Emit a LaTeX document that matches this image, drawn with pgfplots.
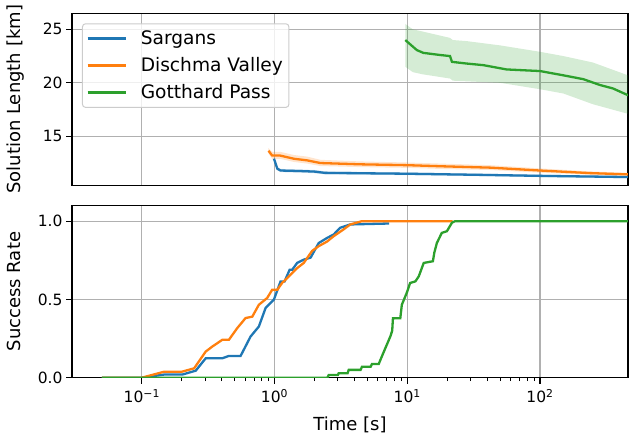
\documentclass[border=0pt]{standalone}
\usepackage{fontspec}
\setmainfont{DejaVu Sans}
\usepackage{pgfplots}
\pgfplotsset{compat=1.18}
\definecolor{C0}{RGB}{31,119,180}
\definecolor{C1}{RGB}{255,127,14}
\definecolor{C2}{RGB}{44,160,44}
\definecolor{gridc}{RGB}{176,176,176}
\pgfplotsset{
  mycommonaxis/.style={
    scale only axis, width=556pt, height=172.2pt,
    xmin=0.0298, xmax=460,
    grid=major, major grid style={gridc, line width=1.1pt},
    axis line style={line width=1.1pt, black},
    tick align=outside, major tick length=6pt, minor tick length=3.5pt,
    tick style={black, line width=1.1pt},
    minor tick style={black, line width=0.8pt},
    tick label style={font=\fontsize{15.5}{18}\selectfont},
    label style={font=\fontsize{18}{21}\selectfont},
    /pgf/number format/assume math mode=true,
    xtick={0.1,1,10,100},
    ytick pos=left, xtick pos=bottom,
    every axis plot/.append style={line width=2.3pt},
  }
}
\begin{document}
\begin{tikzpicture}
\useasboundingbox (-72pt,-63.3pt) rectangle (557pt,377.7pt);
% ---------------- bottom axis: success rate
\begin{semilogxaxis}[mycommonaxis,
  at={(0pt,0pt)}, anchor=south west,
  ymin=0, ymax=1.1, ytick={0,0.5,1},
  yticklabel style={/pgf/number format/.cd, fixed, fixed zerofill, precision=1},
  xticklabels={10\textsuperscript{−1},10\textsuperscript{0},10\textsuperscript{1},10\textsuperscript{2}},
  xticklabel style={yshift=-2pt},
  xlabel={Time [s]}, ylabel={Success Rate},
  xlabel style={at={(axis description cs:0.5,-0.3095)}, anchor=base},
  ylabel style={at={(axis description cs:-0.0926,0.5)}, anchor=base},
]
\addplot[C0] coordinates {(0.05,0)(0.1,0)(0.147,0.02)(0.202,0.02)(0.255,0.045)(0.303,0.124)(0.404,0.124)(0.453,0.139)(0.555,0.139)(0.66,0.263)(0.762,0.327)(0.856,0.445)(0.99,0.50)(1.02,0.53)(1.11,0.615)(1.19,0.615)(1.30,0.69)(1.36,0.69)(1.48,0.733)(1.66,0.754)(1.87,0.767)(2.15,0.86)(2.49,0.893)(2.79,0.915)(3.13,0.958)(3.72,0.979)(7.3,0.985)};
\addplot[C1] coordinates {(0.05,0)(0.1,0)(0.147,0.038)(0.2,0.038)(0.248,0.06)(0.303,0.167)(0.34,0.199)(0.404,0.242)(0.453,0.242)(0.524,0.317)(0.605,0.381)(0.68,0.39)(0.762,0.466)(0.88,0.509)(0.96,0.562)(1.05,0.562)(1.14,0.605)(1.21,0.626)(1.32,0.658)(1.48,0.70)(1.66,0.733)(1.92,0.81)(2.15,0.84)(2.49,0.87)(2.79,0.904)(3.31,0.947)(3.72,0.979)(4.56,1.0)(22,1.0)};
\addplot[C2] coordinates {(0.05,0)(2.5,0)(2.56,0.017)(3.0,0.017)(3.04,0.028)(3.55,0.028)(3.62,0.05)(4.45,0.05)(4.56,0.07)(5.3,0.07)(5.42,0.088)(6.1,0.088)(6.27,0.113)(6.83,0.188)(7.45,0.263)(7.7,0.30)(7.8,0.38)(8.86,0.38)(9.1,0.466)(9.9,0.541)(10.5,0.605)(11.5,0.615)(12.2,0.647)(13.3,0.733)(15.6,0.744)(16.0,0.80)(16.7,0.86)(18.2,0.925)(19.9,0.936)(21.7,0.99)(22.9,1.0)(460,1.0)};
\end{semilogxaxis}
% ---------------- top axis: solution length
\begin{semilogxaxis}[mycommonaxis,
  at={(0pt,192.2pt)}, anchor=south west,
  ymin=10.4, ymax=26.5, ytick={15,20,25},
  xticklabels={}, major x tick style={draw=none}, minor x tick style={draw=none},
  ylabel={Solution Length [km]},
  ylabel style={at={(axis description cs:-0.0926,0.5)}, anchor=base},
  legend style={at={(axis description cs:0,1)}, anchor=north west, xshift=10pt, yshift=-10pt,
    draw=black!20, line width=1pt, fill=white, fill opacity=0.8, text opacity=1,
    rounded corners=3pt, font=\fontsize{18.6}{21}\selectfont,
    inner xsep=4pt, inner ysep=5pt, row sep=7.5pt, cells={anchor=west}},
  legend image code/.code={\draw[#1, line width=2.3pt] (0pt,0pt) -- (38pt,0pt); \path (50pt,0pt);},
]
\addplot[draw=none, fill=C0, fill opacity=0.2, forget plot] coordinates {(0.99,13.05)(1.05,12.12)(1.11,11.95)(1.57,11.9)(2.0,11.85)(2.4,11.72)(10,11.63)(42,11.5)(100,11.42)(460,11.3)(460,11.08)(100,11.18)(42,11.26)(10,11.37)(2.4,11.44)(2.0,11.55)(1.57,11.6)(1.11,11.65)(1.05,11.82)(0.99,12.75)} -- cycle;
\addplot[draw=none, fill=C1, fill opacity=0.2, forget plot] coordinates {(0.9,13.9)(0.96,13.55)(1.1,13.55)(1.4,13.25)(1.76,13.1)(2.22,12.8)(4.43,12.65)(10,12.55)(17.7,12.45)(42,12.3)(100,12.0)(237,11.72)(460,11.58)(460,11.3)(237,11.4)(100,11.6)(42,11.85)(17.7,11.95)(10,12.05)(4.43,12.12)(2.22,12.22)(1.76,12.45)(1.4,12.6)(1.1,12.9)(0.96,12.9)(0.9,13.4)} -- cycle;
\addplot[draw=none, fill=C2, fill opacity=0.2, forget plot] coordinates {(9.66,25.5)(11,25.0)(13,24.8)(21,24.2)(22,24.0)(28,23.9)(50,23.5)(100,22.9)(150,22.5)(250,21.9)(460,20.7)(460,17.1)(250,18.0)(150,19.0)(100,19.4)(50,20.0)(22,20.2)(21,20.4)(13,20.8)(11,21.0)(9.66,21.5)} -- cycle;
\addplot[C0] coordinates {(0.99,12.9)(1.05,11.97)(1.11,11.8)(1.57,11.75)(2.0,11.7)(2.4,11.58)(10,11.5)(42,11.38)(100,11.3)(460,11.19)};
\addlegendentry{Sargans}
\addplot[C1] coordinates {(0.9,13.65)(0.96,13.2)(1.1,13.2)(1.4,12.9)(1.76,12.75)(2.22,12.5)(4.43,12.38)(10,12.3)(17.7,12.2)(42,12.07)(100,11.8)(237,11.56)(460,11.44)};
\addlegendentry{Dischma Valley}
\addplot[C2] coordinates {(9.66,24.0)(11.8,23.06)(13.2,22.8)(17.7,22.6)(21,22.5)(21.7,21.96)(28.1,21.8)(37.5,21.65)(56,21.25)(100,21.1)(150,20.7)(212,20.34)(282,19.8)(355,19.47)(460,18.84)};
\addlegendentry{Gotthard Pass}
\end{semilogxaxis}
\end{tikzpicture}
\end{document}
